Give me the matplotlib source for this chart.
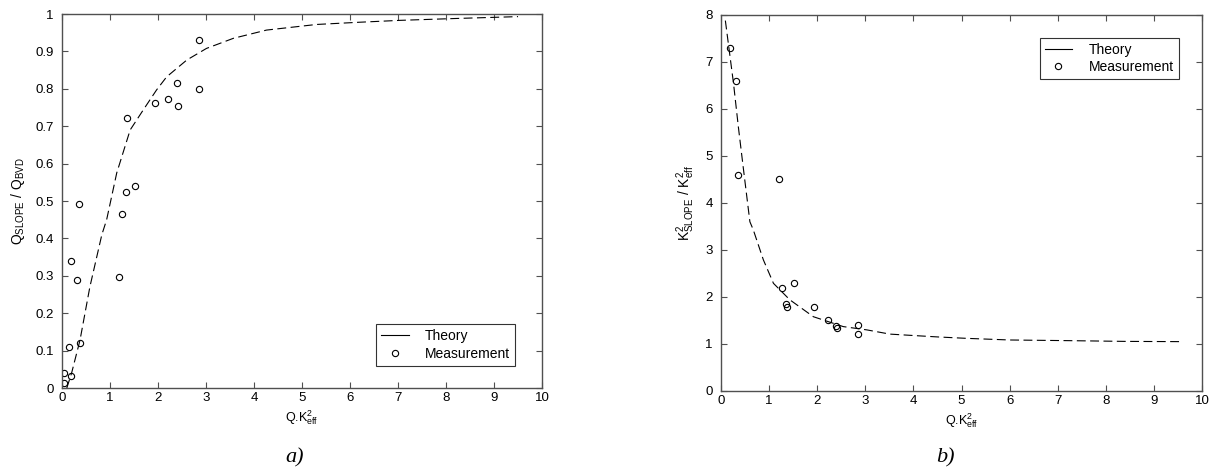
import matplotlib
matplotlib.use('Agg')
import matplotlib.pyplot as plt

plt.rcParams['font.family'] = ['Liberation Sans', 'DejaVu Sans']
plt.rcParams['mathtext.default'] = 'regular'

# panel a) measured points
measA_x = [2.86, 2.86, 2.40, 2.42, 2.21, 1.94, 1.36, 1.52, 1.33, 1.26, 0.35,
           0.19, 0.31, 1.19, 0.15, 0.375, 0.19, 0.05, 0.04]
measA_y = [0.93, 0.80, 0.816, 0.754, 0.772, 0.763, 0.721, 0.540, 0.524, 0.466, 0.493,
           0.339, 0.289, 0.298, 0.110, 0.121, 0.033, 0.041, 0.013]

# panel a) theory curve
theoA_x = [0.10, 0.20, 0.375, 0.58, 0.83, 0.93, 1.14, 1.42, 1.69, 1.97, 2.18,
           2.60, 3.01, 3.57, 4.26, 5.30, 6.20, 7.04, 8.20, 9.50]
theoA_y = [0.0, 0.04, 0.128, 0.27, 0.41, 0.45, 0.575, 0.69, 0.743, 0.797, 0.832,
           0.877, 0.908, 0.935, 0.957, 0.972, 0.978, 0.983, 0.988, 0.993]

# panel b) measured points
measB_x = [0.19, 0.305, 0.35, 1.21, 1.26, 1.52, 1.35, 1.37, 1.93, 2.22, 2.39, 2.42, 2.84, 2.84]
measB_y = [7.29, 6.60, 4.59, 4.51, 2.20, 2.30, 1.84, 1.78, 1.78, 1.52, 1.38, 1.33, 1.41, 1.22]

# panel b) theory curve
theoB_x = [0.09, 0.26, 0.36, 0.46, 0.60, 0.67, 0.88, 1.09, 1.43, 1.92, 2.54,
           3.03, 3.51, 4.00, 4.50, 5.10, 6.00, 7.30, 8.40, 9.54]
theoB_y = [7.88, 6.54, 5.62, 4.77, 3.60, 3.43, 2.79, 2.29, 1.94, 1.58, 1.37,
           1.30, 1.21, 1.18, 1.15, 1.12, 1.085, 1.07, 1.055, 1.05]

spineColor = '#505050'


def StyleAxes(ax, xlim, ylim, yticks, ylabels):
    ax.set_xlim(xlim)
    ax.set_ylim(ylim)
    ax.set_xticks(range(0, 11))
    ax.set_yticks(yticks)
    ax.set_yticklabels(ylabels)
    ax.tick_params(direction='in', top=True, right=True, length=4, width=0.8,
                   color=spineColor, labelsize=9.5)
    ax.tick_params(axis='y', pad=6)
    ax.tick_params(axis='x', pad=3)
    for side in ['bottom', 'top', 'left', 'right']:
        ax.spines[side].set_color(spineColor)
        ax.spines[side].set_linewidth(1.0)


def AddLegend(ax, loc, anchor):
    leg = ax.legend(loc=loc, bbox_to_anchor=anchor, fontsize=10, frameon=True,
                    fancybox=False, edgecolor='black', handlelength=2.0, borderpad=0.35,
                    labelspacing=0.25, handletextpad=1.2, borderaxespad=0)
    leg.get_frame().set_linewidth(0.8)
    leg.get_lines()[0].set_linestyle('-')
    return leg


fig = plt.figure(figsize=(12.11, 4.73), dpi=100)

axA = fig.add_axes([0.0512, 0.1797, 0.3964, 0.7907])
axA.plot(theoA_x, theoA_y, color='black', linewidth=0.8, dashes=(8, 4), label='Theory')
axA.plot(measA_x, measA_y, linestyle='none', marker='o', markersize=4.5, markerfacecolor='none',
         markeredgecolor='black', markeredgewidth=0.8, label='Measurement')
yA = [i / 10 for i in range(11)]
StyleAxes(axA, (0, 10), (0, 1), yA, ['0'] + ['%.1f' % v for v in yA[1:-1]] + ['1'])
axA.set_xlabel('Q.K$^2_{eff}$', fontsize=9, labelpad=3)
axA.set_ylabel('Q$_{SLOPE}$ / Q$_{BVD}$', fontsize=10, labelpad=6)
AddLegend(axA, 'lower right', (0.944, 0.06))

axB = fig.add_axes([0.5954, 0.1734, 0.3972, 0.795])
axB.plot(theoB_x, theoB_y, color='black', linewidth=0.8, dashes=(8, 4), label='Theory')
axB.plot(measB_x, measB_y, linestyle='none', marker='o', markersize=4.5, markerfacecolor='none',
         markeredgecolor='black', markeredgewidth=0.8, label='Measurement')
StyleAxes(axB, (0, 10), (0, 8), range(0, 9), [str(v) for v in range(0, 9)])
axB.set_xlabel('Q.K$^2_{eff}$', fontsize=9, labelpad=3)
axB.set_ylabel('K$^2_{SLOPE}$ / K$^2_{eff}$', fontsize=10, labelpad=6)
AddLegend(axB, 'upper right', (0.952, 0.939))

fig.text(0.236, 0.022, 'a)', fontsize=16, family='Liberation Serif', style='italic')
fig.text(0.773, 0.022, 'b)', fontsize=16, family='Liberation Serif', style='italic')

plt.savefig('out.png', dpi=100)
